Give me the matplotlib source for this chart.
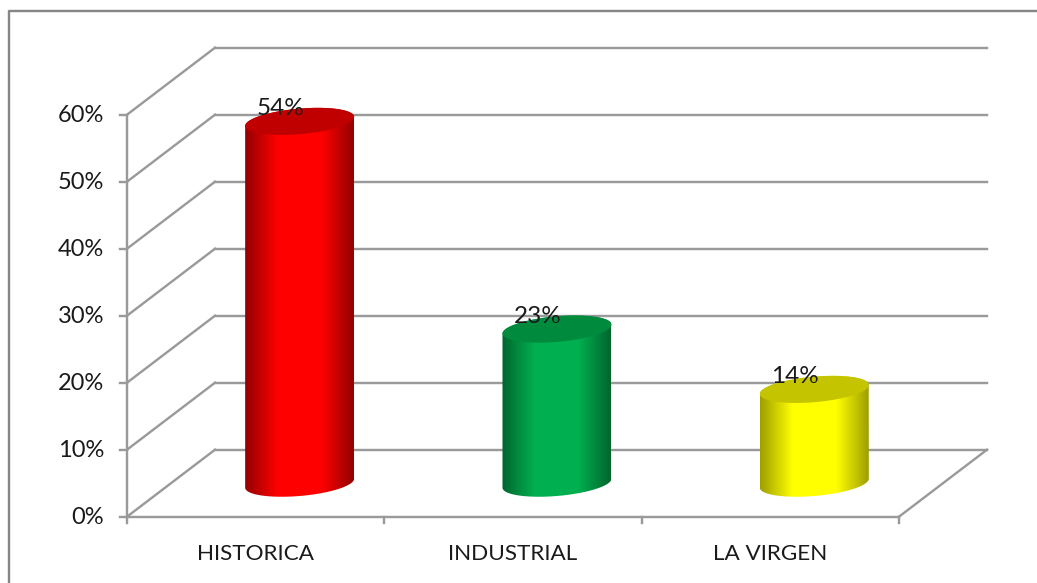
import numpy as np
import matplotlib.pyplot as plt
from matplotlib.patches import PathPatch
from matplotlib.path import Path
from matplotlib.colors import LinearSegmentedColormap

categories = ['HISTORICA', 'INDUSTRIAL', 'LA VIRGEN']
values = [54, 23, 14]
labels = ['54%', '23%', '14%']
yticks = [0, 10, 20, 30, 40, 50, 60]
side_colors = [(1, 0, 0), (0, 0.69, 0.31), (1, 1, 0)]
side_darks = [(0.58, 0, 0), (0, 0.40, 0.18), (0.62, 0.62, 0)]
top_colors = ['#c00000', '#008a3e', '#c4c400']

W, H = 1037, 583
GREY = '#9a9a9a'
px_x = 257.33   # pixels per category
px_y = 6.7      # pixels per percent
x0, y0 = 127, 516.7

plt.rcParams['font.family'] = ['Lato', 'DejaVu Sans']
fig = plt.figure(figsize=(W / 100, H / 100), dpi=100)
ax = fig.add_axes([0, 0, 1, 1])

dx = 88 / px_x
dy = 10.0
lw = 2.4 * 0.72

# outer frame
fig.add_artist(plt.Line2D([8.5 / W, 8.5 / W, 1], [0, 1 - 10.5 / H, 1 - 10.5 / H], color='#868686', lw=lw))

# walls and floor
for v in yticks:
    ax.plot([0, dx], [v, v + dy], color=GREY, lw=lw, zorder=1)
    ax.plot([dx, 3 + dx], [v + dy, v + dy], color=GREY, lw=lw, zorder=1)
    ax.plot([-7 / px_x, 0], [v, v], color=GREY, lw=lw, zorder=1)
    ax.text(-23 / px_x, v - 0.15, '%d%%' % v, ha='right', va='center', fontsize=17, color='#1a1a1a')
ax.plot([0, 0], [0, 60], color=GREY, lw=lw, zorder=1)
ax.plot([0, 3], [0, 0], color=GREY, lw=lw, zorder=1)
ax.plot([3, 3 + dx], [0, dy], color=GREY, lw=lw, zorder=1)
for i in range(4):
    ax.plot([i, i], [0, -6 / px_y], color=GREY, lw=lw, zorder=1)
for i, c in enumerate(categories):
    ax.text(i + 0.5, -5.6, c, ha='center', va='center', fontsize=16.2, color='#1a1a1a')

# cylinders
a = 54.5 / px_x
b = 12.8 / px_y
k = 4.5 / px_y
t = np.linspace(0, 2 * np.pi, 200)
base = 5.0  # base centre height on the floor
for i, v in enumerate(values):
    cx = i + 0.5 + dx / 2
    top = base + v
    ex = np.cos(t)
    ey = b * np.sin(t) + k * ex
    lower = np.linspace(np.pi, 2 * np.pi, 100)
    upper = np.linspace(0, np.pi, 100)
    # side: lower edge of the base, then back along the top ellipse
    sx = np.concatenate([cx + a * np.cos(lower), cx + a * np.cos(upper)])
    sy = np.concatenate([base + b * np.sin(lower) + k * np.cos(lower),
                         top + b * np.sin(upper) + k * np.cos(upper)])
    side = PathPatch(Path(np.column_stack([sx, sy])), fc='none', ec='none')
    ax.add_patch(side)
    cmap = LinearSegmentedColormap.from_list('c', [(0, side_darks[i]), (0.3, side_colors[i]),
                                                   (0.7, side_colors[i]), (1, side_darks[i])])
    im = ax.imshow(np.linspace(0, 1, 256).reshape(1, -1), cmap=cmap, aspect='auto',
                   extent=[cx - a, cx + a, base - 3, top + 3], zorder=2)
    im.set_clip_path(side)
    ax.fill(cx + a * ex, top + ey, color=top_colors[i], lw=0, zorder=3)
    ax.text(cx - 19 / px_x, top + 12.5 / px_y, labels[i], ha='center', va='center',
            fontsize=17.5, color='#1a1a1a', zorder=4)

ax.set_xlim(-x0 / px_x, (W - x0) / px_x)
ax.set_ylim(-(H - y0) / px_y, y0 / px_y)
ax.axis('off')
fig.savefig('out.png', dpi=100)
